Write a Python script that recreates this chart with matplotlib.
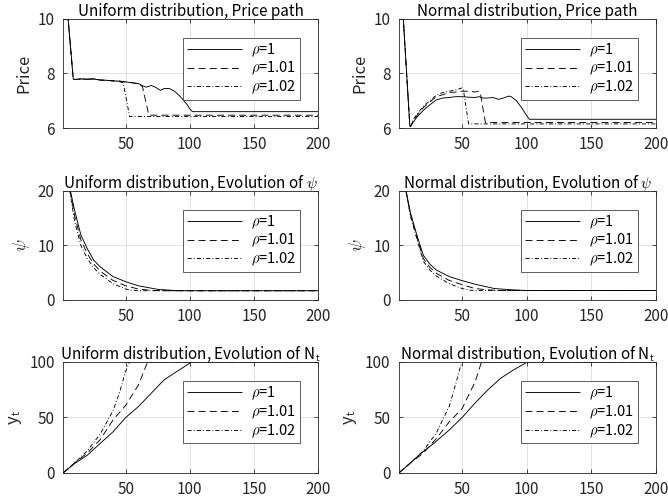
import matplotlib
matplotlib.use("Agg")
import matplotlib.pyplot as plt

plt.rcParams['font.family'] = ['Noto Sans CJK JP', 'DejaVu Sans']
plt.rcParams['mathtext.fontset'] = 'cm'
plt.rcParams['lines.scale_dashes'] = False

# ---- data ----
labels = [r'$\rho$=1', r'$\rho$=1.01', r'$\rho$=1.02']

# Uniform, price path
up_t1 = [1, 5, 9, 10, 15, 20, 25, 30, 35, 40, 45, 50, 55, 60, 63, 66, 70, 73, 77, 80, 84, 88, 92, 95, 98, 100, 102, 200]
up_v1 = [10, 10, 7.8, 7.78, 7.8, 7.79, 7.8, 7.76, 7.75, 7.73, 7.72, 7.69, 7.66, 7.63, 7.55, 7.5, 7.56, 7.5, 7.38, 7.45, 7.45, 7.35, 7.18, 7.02, 6.85, 6.7, 6.6, 6.6]
up_t2 = [1, 5, 9, 10, 15, 20, 25, 30, 35, 40, 45, 50, 55, 60, 63, 68, 200]
up_v2 = [10, 10, 7.8, 7.78, 7.8, 7.79, 7.8, 7.76, 7.75, 7.73, 7.72, 7.69, 7.66, 7.62, 7.52, 6.47, 6.47]
up_t3 = [1, 5, 9, 10, 15, 20, 25, 30, 35, 40, 45, 48, 53, 200]
up_v3 = [10, 10, 7.8, 7.78, 7.8, 7.79, 7.8, 7.76, 7.75, 7.73, 7.7, 7.66, 6.42, 6.42]

# Normal, price path
np_t1 = [1, 4.5, 9.5, 10, 12, 15, 20, 25, 30, 35, 40, 45, 50, 55, 60, 63, 66, 70, 74, 78, 82, 86, 88, 92, 96, 100, 102, 200]
np_v1 = [10, 10, 6.1, 6.05, 6.2, 6.4, 6.65, 6.85, 7.03, 7.1, 7.12, 7.15, 7.15, 7.13, 7.12, 7.15, 7.1, 7.1, 7.12, 7.05, 7.1, 7.17, 7.15, 7.0, 6.75, 6.45, 6.32, 6.32]
np_t2 = [1, 4.5, 9.5, 10, 12, 15, 20, 25, 30, 35, 40, 45, 50, 55, 60, 63, 64, 68, 200]
np_v2 = [10, 10, 6.1, 6.05, 6.25, 6.45, 6.75, 6.95, 7.15, 7.22, 7.3, 7.32, 7.35, 7.35, 7.32, 7.35, 7.3, 6.2, 6.2]
np_t3 = [1, 4.5, 9.5, 10, 12, 15, 20, 25, 30, 35, 40, 45, 50, 51, 55, 200]
np_v3 = [10, 10, 6.1, 6.05, 6.3, 6.5, 6.8, 7.0, 7.2, 7.3, 7.35, 7.4, 7.47, 7.4, 6.15, 6.15]

# Uniform, psi
us_t1 = [5, 10, 15, 20, 25, 30, 40, 50, 60, 75, 90, 100, 200]
us_v1 = [22, 16.5, 11.9, 9.4, 7.3, 6.1, 4.3, 3.35, 2.6, 1.95, 1.72, 1.7, 1.7]
us_t2 = [5, 10, 15, 20, 25, 30, 40, 50, 60, 70, 80, 200]
us_v2 = [22, 15.5, 11.0, 8.5, 6.6, 5.3, 3.6, 2.6, 2.0, 1.75, 1.7, 1.7]
us_t3 = [5, 10, 15, 20, 25, 30, 40, 50, 55, 60, 200]
us_v3 = [22, 14.5, 10.0, 7.6, 5.9, 4.7, 3.0, 2.0, 1.78, 1.7, 1.7]

# Normal, psi
ns_t1 = [5, 10, 15, 20, 25, 30, 40, 50, 60, 75, 90, 100, 200]
ns_v1 = [22, 16.0, 11.9, 8.2, 6.6, 5.5, 4.3, 3.55, 2.9, 2.1, 1.85, 1.75, 1.75]
ns_t2 = [5, 10, 15, 20, 25, 30, 40, 50, 60, 70, 80, 200]
ns_v2 = [22, 15.7, 11.5, 7.6, 6.0, 4.9, 3.6, 2.8, 2.1, 1.85, 1.75, 1.75]
ns_t3 = [5, 10, 15, 20, 25, 30, 40, 50, 56, 62, 200]
ns_v3 = [22, 15.4, 11.2, 7.1, 5.5, 4.4, 3.0, 2.1, 1.8, 1.75, 1.75]

# Uniform, N_t
un_t1 = [1, 10, 20, 30, 40, 50, 60, 70, 80, 90, 100, 101, 200]
un_v1 = [0, 8.5, 16, 26.6, 37, 50, 60, 72, 84, 91.5, 99, 100, 100]
un_t2 = [1, 10, 20, 30, 40, 50, 60, 67, 200]
un_v2 = [0, 9, 18, 30, 47.7, 61, 79.5, 100, 100]
un_t3 = [1, 10, 20, 30, 40, 45, 50, 53, 200]
un_v3 = [0, 9, 20, 35, 56, 72, 92, 100, 100]

# Normal, N_t
nn_t1 = [1, 10, 18, 28, 40, 50, 60, 70, 80, 90, 99, 101, 200]
nn_v1 = [0, 9, 17.5, 26.6, 38.7, 50, 63, 75, 85.5, 93, 99, 100, 100]
nn_t2 = [1, 10, 20, 30, 40, 50, 60, 65, 200]
nn_v2 = [0, 9, 18, 31, 46, 58, 82, 100, 100]
nn_t3 = [1, 10, 20, 30, 40, 45, 49, 51, 200]
nn_v3 = [0, 9, 20, 36, 60, 80, 97, 100, 100]

# matlab-like dash patterns (in points)
dash_styles = [(0, ()), (0, (5, 3)), (0, (3, 1.5, 0.7, 1.5))]


def draw_panel(ax, series, title, ylabel, ylim, yticks, ylabel_size=12):
    for (t, v), ls, lab in zip(series, dash_styles, labels):
        ax.plot(t, v, linestyle=ls, color='black', lw=0.65, label=lab)
    ax.set_xlim(1, 200)
    ax.set_ylim(*ylim)
    ax.set_xticks([50, 100, 150, 200])
    ax.set_yticks(yticks)
    ax.set_title(title, fontsize=11, pad=2)
    ax.set_ylabel(ylabel, fontsize=ylabel_size, color='#262626')
    ax.grid(True, color='#dcdcdc', lw=0.6)
    ax.set_axisbelow(True)
    ax.tick_params(direction='in', length=3, width=0.6, top=True, right=True,
                   labelsize=11, colors='#262626', pad=6)
    for s in ax.spines.values():
        s.set_color('#262626')
        s.set_linewidth(0.6)
    leg = ax.legend(loc='upper right', bbox_to_anchor=(0.93, 0.83), fontsize=10.5,
                    handlelength=3.8, fancybox=False, framealpha=1,
                    edgecolor='#444444', borderpad=0.25, labelspacing=0.1,
                    handletextpad=0.6, borderaxespad=0)
    leg.get_frame().set_linewidth(0.6)


fig = plt.figure(figsize=(6.68, 5.01), dpi=100)
ax1 = fig.add_axes([0.0943, 0.7445, 0.3817, 0.2176])
ax2 = fig.add_axes([0.597, 0.7445, 0.385, 0.2176])
ax3 = fig.add_axes([0.0943, 0.4012, 0.3817, 0.2176])
ax4 = fig.add_axes([0.597, 0.4012, 0.385, 0.2176])
ax5 = fig.add_axes([0.0943, 0.0559, 0.3817, 0.2216])
ax6 = fig.add_axes([0.597, 0.0559, 0.385, 0.2216])

draw_panel(ax1, [(up_t1, up_v1), (up_t2, up_v2), (up_t3, up_v3)],
           'Uniform distribution, Price path', 'Price', (6, 10), [6, 8, 10])
draw_panel(ax2, [(np_t1, np_v1), (np_t2, np_v2), (np_t3, np_v3)],
           'Normal distribution, Price path', 'Price', (6, 10), [6, 8, 10])
draw_panel(ax3, [(us_t1, us_v1), (us_t2, us_v2), (us_t3, us_v3)],
           r'Uniform distribution, Evolution of $\psi$', r'$\psi$', (0, 20), [0, 10, 20], 13)
draw_panel(ax4, [(ns_t1, ns_v1), (ns_t2, ns_v2), (ns_t3, ns_v3)],
           r'Normal distribution, Evolution of $\psi$', r'$\psi$', (0, 20), [0, 10, 20], 13)
draw_panel(ax5, [(un_t1, un_v1), (un_t2, un_v2), (un_t3, un_v3)],
           r'Uniform distribution, Evolution of N$_\mathsf{t}$', r'y$_\mathsf{t}$', (0, 100), [0, 50, 100])
draw_panel(ax6, [(nn_t1, nn_v1), (nn_t2, nn_v2), (nn_t3, nn_v3)],
           r'Normal distribution, Evolution of N$_\mathsf{t}$', r'y$_\mathsf{t}$', (0, 100), [0, 50, 100])

fig.savefig('out.png', dpi=100)
